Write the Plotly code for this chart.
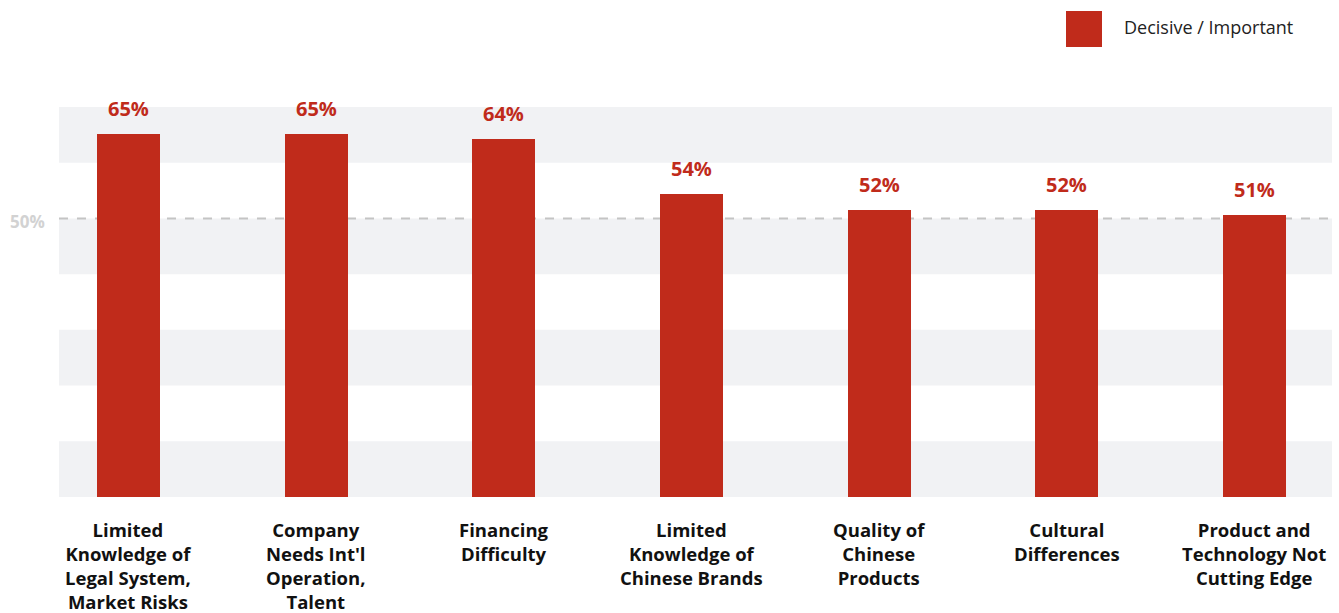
import plotly.graph_objects as go

categories = [
    "Limited<br>Knowledge of<br>Legal System,<br>Market Risks",
    "Company<br>Needs Int'l<br>Operation,<br>Talent",
    "Financing<br>Difficulty",
    "Limited<br>Knowledge of<br>Chinese Brands",
    "Quality of<br>Chinese<br>Products",
    "Cultural<br>Differences",
    "Product and<br>Technology Not<br>Cutting Edge",
]
values = [65.2, 65.2, 64.3, 54.4, 51.5, 51.5, 50.6]
value_labels = ["65%", "65%", "64%", "54%", "52%", "52%", "51%"]
series_name = "Decisive / Important"
reference_value = 50
reference_label = "50%"
band_ranges = [(0, 10), (20, 30), (40, 50), (60, 70)]

RED = "#c02b1b"
FONT = "Open Sans"

xs = list(range(len(categories)))

fig = go.Figure()
fig.add_trace(go.Bar(
    x=xs, y=values, width=0.336, marker=dict(color=RED, line=dict(width=0)),
    name=series_name, showlegend=False, hoverinfo="skip",
))

shapes = []
for lo, hi in band_ranges:
    shapes.append(dict(type="rect", xref="paper", yref="y", x0=0, x1=1, y0=lo, y1=hi,
                       fillcolor="#f1f2f4", line=dict(width=0), layer="below"))
shapes.append(dict(type="line", xref="paper", yref="y", x0=0, x1=1,
                   y0=reference_value, y1=reference_value,
                   line=dict(color="#c4c4c4", width=2, dash="dash"), layer="below"))
# legend swatch
shapes.append(dict(type="rect", xref="paper", yref="paper",
                   x0=(1066 - 59) / 1273, x1=(1102 - 59) / 1273,
                   y0=(497 - 47) / 390, y1=(497 - 11) / 390,
                   fillcolor=RED, line=dict(width=0)))

annotations = []
for x, v, t in zip(xs, values, value_labels):
    annotations.append(dict(x=x, y=v, xref="x", yref="y", text=t, showarrow=False,
                            yanchor="bottom", yshift=10,
                            font=dict(family=FONT, size=20, color=RED, weight="bold")))
for x, c in zip(xs, categories):
    annotations.append(dict(x=x, y=0, xref="x", yref="paper", text=c, showarrow=False,
                            yanchor="top", yshift=-18,
                            font=dict(family=FONT, size=18.5, color="#111111", weight="bold")))
annotations.append(dict(x=0, y=reference_value, xref="paper", yref="y", text=reference_label,
                        showarrow=False, xanchor="right", xshift=-12, yshift=-3,
                        font=dict(family=FONT, size=17, color="#d2d2d2", weight="bold")))
annotations.append(dict(x=(1124 - 59) / 1273, y=(497 - 27) / 390, xref="paper", yref="paper",
                        text=series_name, showarrow=False, xanchor="left", yanchor="middle",
                        xshift=-2,
                        font=dict(family=FONT, size=18, color="#222222")))

fig.update_layout(
    width=1339, height=613,
    margin=dict(l=59, r=7, t=107, b=116),
    paper_bgcolor="white", plot_bgcolor="white",
    xaxis=dict(range=[-0.370, 6.413], showgrid=False, zeroline=False,
               showticklabels=False, fixedrange=True),
    yaxis=dict(range=[0, 70], showgrid=False, zeroline=False,
               showticklabels=False, fixedrange=True),
    shapes=shapes, annotations=annotations,
    bargap=0,
)

fig.write_html("out.html")
